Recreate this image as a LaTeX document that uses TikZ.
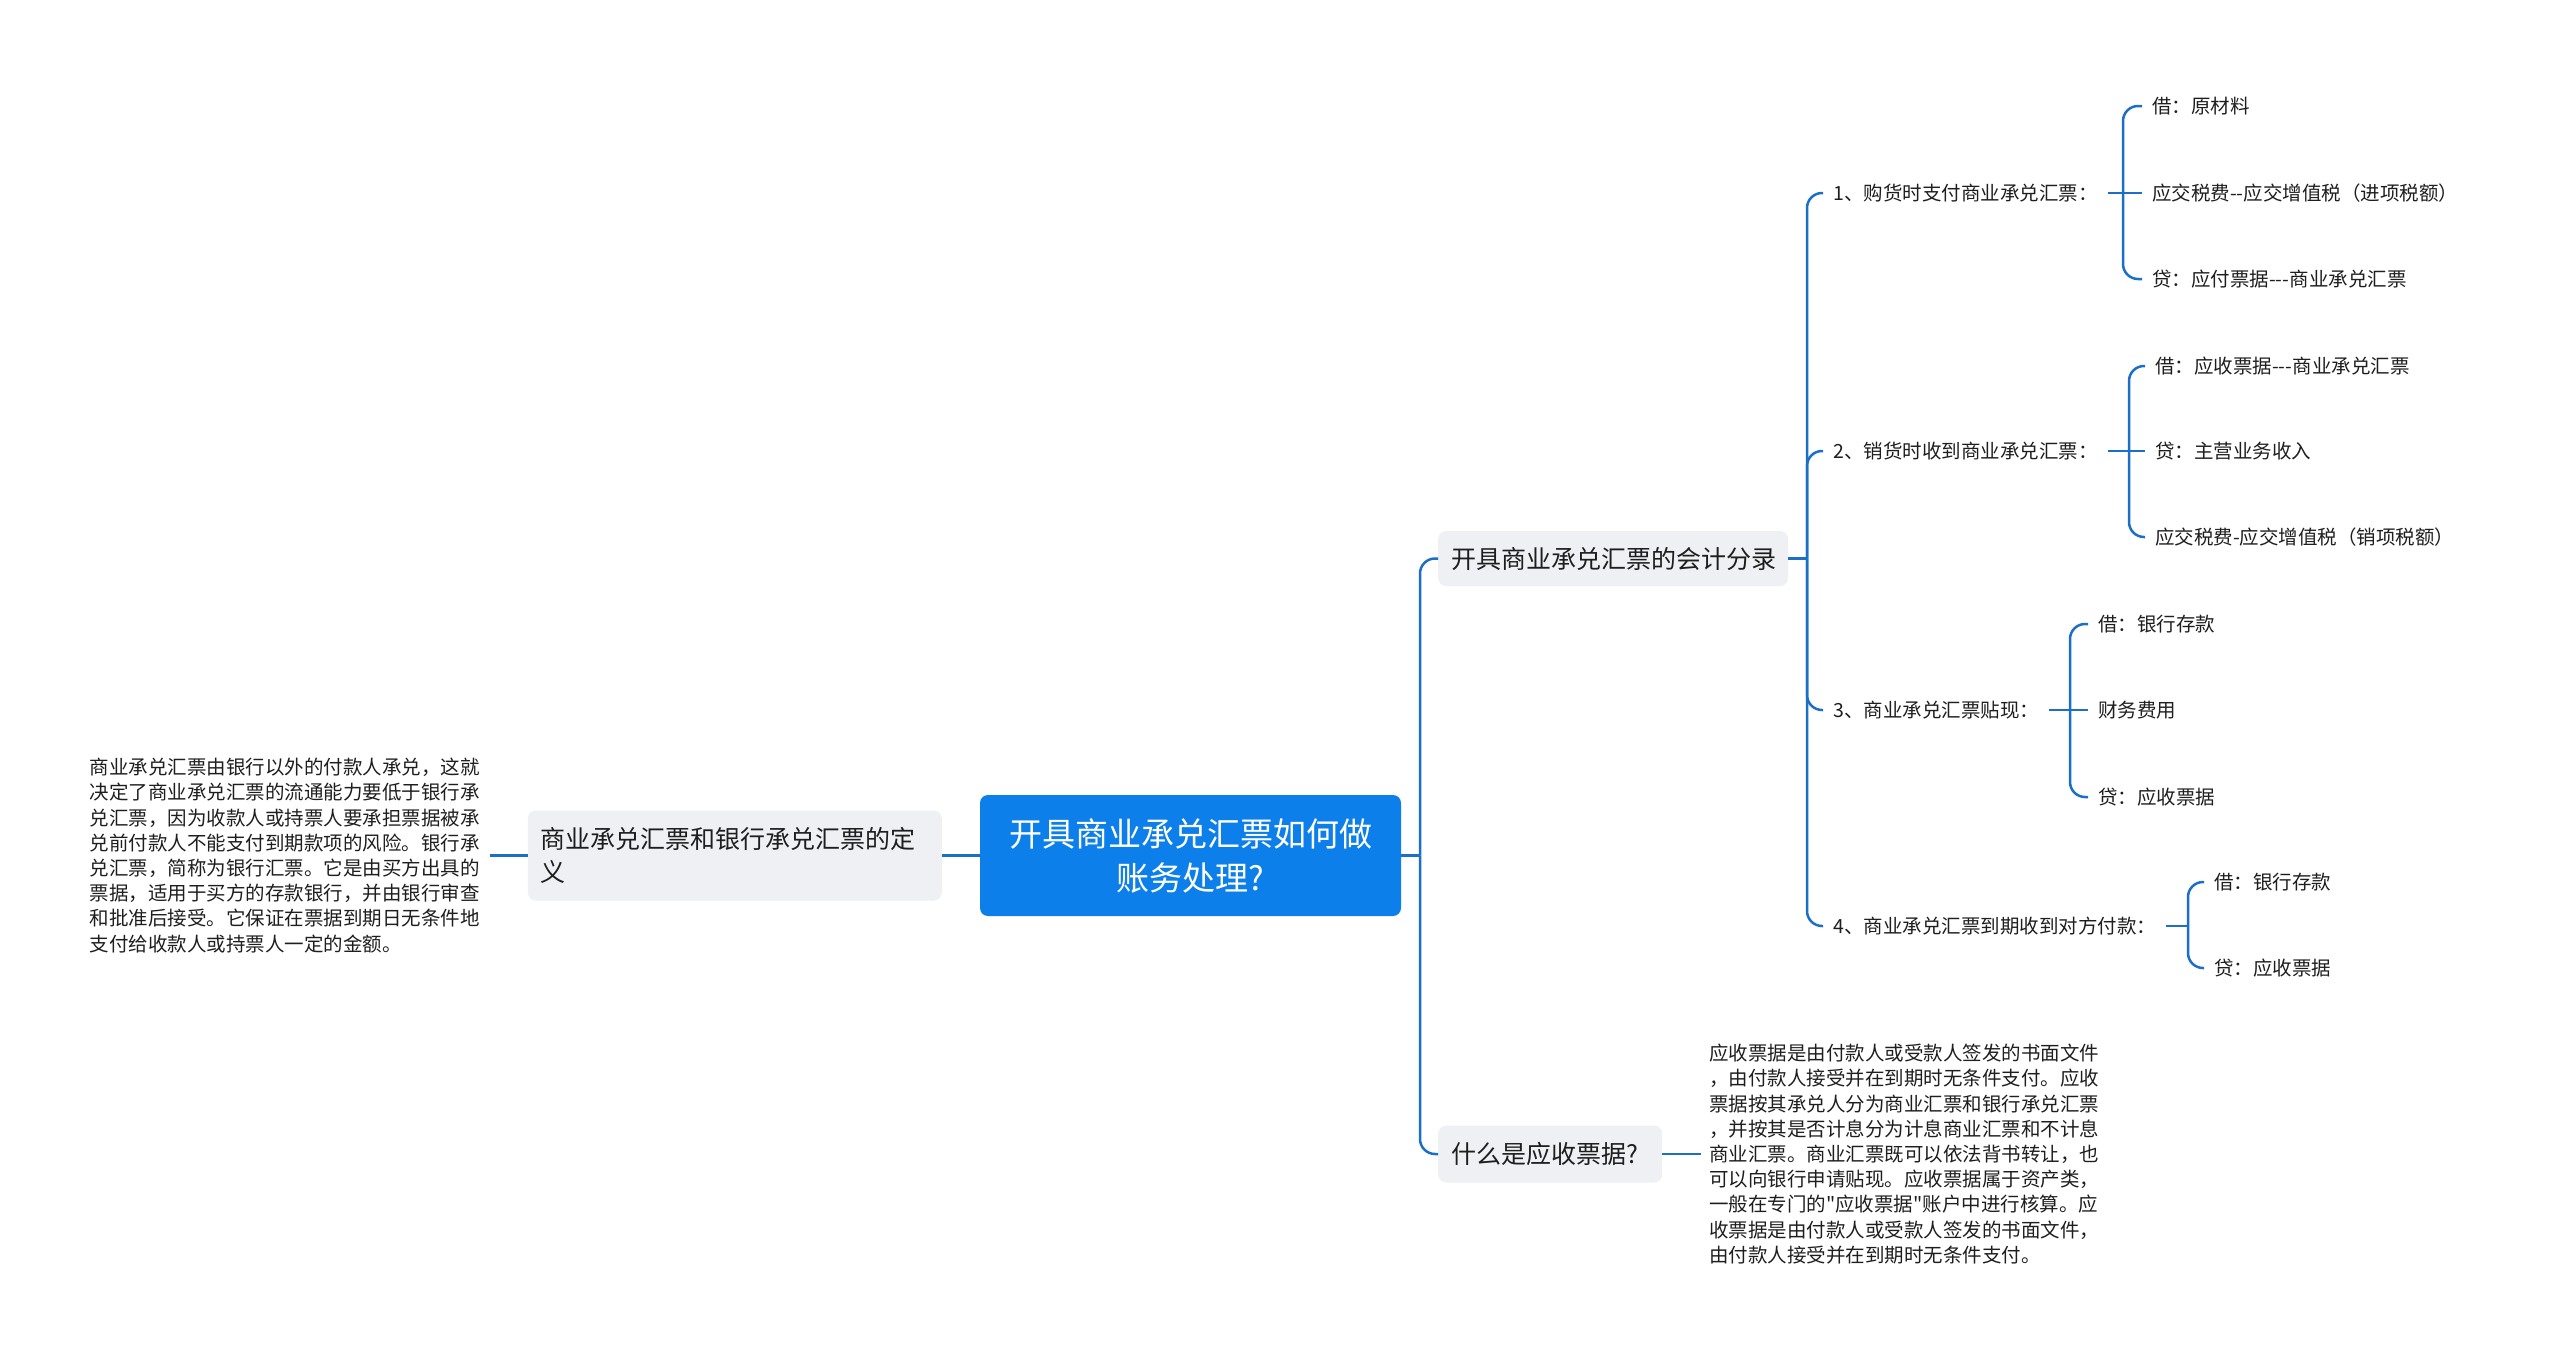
\documentclass[tikz,border=0pt]{standalone}
\usepackage{fontspec}
\setmainfont{Noto Sans CJK SC}
\definecolor{lineblue}{RGB}{27,111,199}
\definecolor{rootblue}{RGB}{13,127,234}
\definecolor{boxgray}{RGB}{238,240,243}
\definecolor{ink}{RGB}{30,30,30}

\begin{document}
\begin{tikzpicture}[x=1pt,y=-1pt,
  conn/.style={draw=lineblue,line width=2.5pt,rounded corners=15pt},
  gbox/.style={fill=boxgray,rounded corners=8pt,inner xsep=13pt,inner ysep=0pt,align=left,text=ink,font=\fontsize{25}{33}\selectfont},
  leaf/.style={inner xsep=10pt,inner ysep=2pt,text=ink,font=\fontsize{19.5}{25.2}\selectfont},
  para/.style={inner xsep=8pt,align=left,text=ink,text width=392pt,font=\fontsize{19.5}{25.2}\selectfont}]
\useasboundingbox (0,0) rectangle (2560,1360);
% centre
\node[fill=rootblue,rounded corners=8pt,text=white,align=center,minimum width=421pt,minimum height=121pt,inner sep=0pt,font=\fontsize{33}{44}\selectfont] (r)at(1190.5,855.5){开具商业承兑汇票如何做\\账务处理?};
% left side
\node[gbox,text width=388pt,minimum height=90pt,anchor=east] (d)at(942,855.5){商业承兑汇票和银行承兑汇票的定\\义};
\node[para,anchor=east] (dt)at(490,855.5){商业承兑汇票由银行以外的付款人承兑，这就\\决定了商业承兑汇票的流通能力要低于银行承\\兑汇票，因为收款人或持票人要承担票据被承\\兑前付款人不能支付到期款项的风险。银行承\\兑汇票，简称为银行汇票。它是由买方出具的\\票据，适用于买方的存款银行，并由银行审查\\和批准后接受。它保证在票据到期日无条件地\\支付给收款人或持票人一定的金额。};
% right side
\node[gbox,text width=324pt,minimum height=55pt,anchor=west] (k)at(1438,558.5){开具商业承兑汇票的会计分录};
\node[gbox,text width=198pt,minimum height=57pt,anchor=west] (q)at(1438,1154){什么是应收票据?};
\node[para,anchor=west] (qt)at(1701,1154){应收票据是由付款人或受款人签发的书面文件\\，由付款人接受并在到期时无条件支付。应收\\票据按其承兑人分为商业汇票和银行承兑汇票\\，并按其是否计息分为计息商业汇票和不计息\\商业汇票。商业汇票既可以依法背书转让，也\\可以向银行申请贴现。应收票据属于资产类，\\一般在专门的\textquotedbl 应收票据\textquotedbl 账户中进行核算。应\\收票据是由付款人或受款人签发的书面文件，\\由付款人接受并在到期时无条件支付。};
\node[leaf,anchor=west] (k1)at(1823,193){1、购货时支付商业承兑汇票：};
\node[leaf,anchor=west] (k2)at(1823,451){2、销货时收到商业承兑汇票：};
\node[leaf,anchor=west] (k3)at(1823,710){3、商业承兑汇票贴现：};
\node[leaf,anchor=west] (k4)at(1823,926){4、商业承兑汇票到期收到对方付款：};
\node[leaf,anchor=west] (k11)at(2142,106){借：原材料};
\node[leaf,anchor=west] (k12)at(2142,193){应交税费-{}-应交增值税（进项税额）};
\node[leaf,anchor=west] (k13)at(2142,279){贷：应付票据-{}-{}-商业承兑汇票};
\node[leaf,anchor=west] (k21)at(2145,366){借：应收票据-{}-{}-商业承兑汇票};
\node[leaf,anchor=west] (k22)at(2145,451){贷：主营业务收入};
\node[leaf,anchor=west] (k23)at(2145,537){应交税费-应交增值税（销项税额）};
\node[leaf,anchor=west] (k31)at(2088,624){借：银行存款};
\node[leaf,anchor=west] (k32)at(2088,710){财务费用};
\node[leaf,anchor=west] (k33)at(2088,797){贷：应收票据};
\node[leaf,anchor=west] (k41)at(2204,882){借：银行存款};
\node[leaf,anchor=west] (k42)at(2204,968){贷：应收票据};
% joints
\coordinate (rj)at(1420,855.5);
\coordinate (kj)at(1807,558.5);
\coordinate (k1j)at(2123,193);
\coordinate (k2j)at(2129,451);
\coordinate (k3j)at(2070,710);
\coordinate (k4j)at(2188,926);
% connectors
\draw[conn] (r) -- (d);
\draw[conn] (d) -- (dt);
\draw[conn] (r) -- (rj);
\draw[conn] (rj) |- (k.west);
\draw[conn] (rj) |- (q.west);
\draw[conn] (q) -- (qt);
\draw[conn] (k) -- (kj);
\foreach \s in {k1,k2,k3,k4} \draw[conn] (kj) |- (\s.west);
\draw[conn] (k1) -- (k1j);
\draw[conn] (k1j) |- (k11.west);
\draw[conn] (k1j) -- (k12);
\draw[conn] (k1j) |- (k13.west);
\draw[conn] (k2) -- (k2j);
\draw[conn] (k2j) |- (k21.west);
\draw[conn] (k2j) -- (k22);
\draw[conn] (k2j) |- (k23.west);
\draw[conn] (k3) -- (k3j);
\draw[conn] (k3j) |- (k31.west);
\draw[conn] (k3j) -- (k32);
\draw[conn] (k3j) |- (k33.west);
\draw[conn] (k4) -- (k4j);
\draw[conn] (k4j) |- (k41.west);
\draw[conn] (k4j) |- (k42.west);
\end{tikzpicture}
\end{document}
